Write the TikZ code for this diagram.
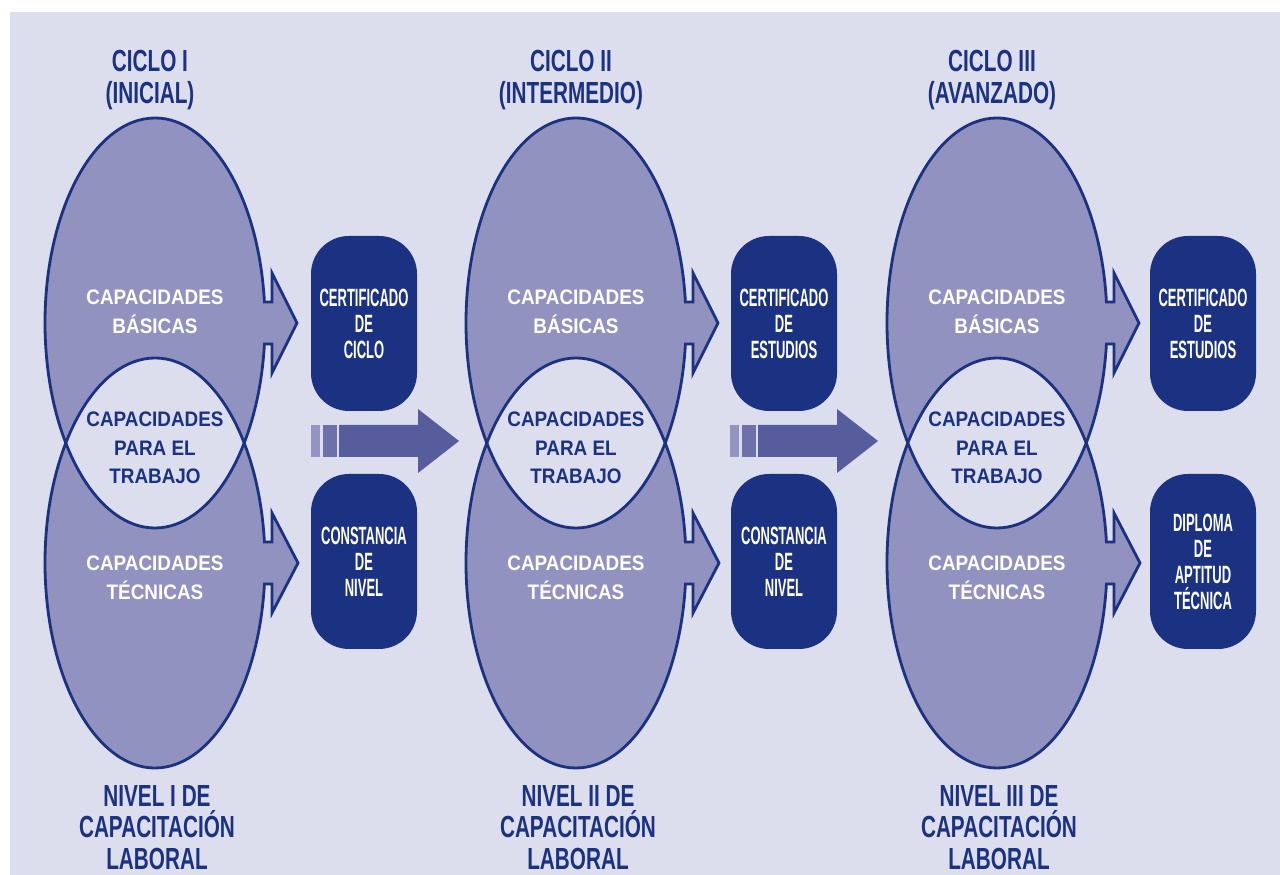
\documentclass[tikz,border=0pt]{standalone}
\usepackage{fontspec}
\newfontfamily\titlefont{Liberation Sans}[FakeStretch=0.68]
\newfontfamily\boxfont{Liberation Sans}[FakeStretch=0.52]
\newfontfamily\capfont{Liberation Sans}[FakeStretch=0.9]
\definecolor{bgc}{RGB}{220,221,237}
\definecolor{ellc}{RGB}{145,146,191}
\definecolor{navy}{RGB}{27,50,130}
\definecolor{arrmain}{RGB}{86,92,156}
\definecolor{arrmid}{RGB}{110,112,170}
\definecolor{arrlight}{RGB}{147,148,194}
\begin{document}
\begin{tikzpicture}[x=1pt,y=1pt,
  box/.style={fill=navy, rounded corners=38pt, minimum width=106pt, minimum height=175pt, inner sep=0pt, text=white, align=center, font=\boxfont\bfseries\fontsize{25}{26}\selectfont},
  captxt/.style={inner sep=0pt, align=center, font=\capfont\bfseries\fontsize{21}{28.5}\selectfont},
  titletxt/.style={inner sep=0pt, align=center, text=navy, font=\titlefont\bfseries\fontsize{30.5}{32}\selectfont},
  outline/.style={draw=navy, line width=2.8pt, line join=miter}]
\useasboundingbox (0,0) rectangle (1280,875);
\fill[white] (0,0) rectangle (1280,875);
\fill[bgc] (10,0) rectangle (1280,863);
% middle arrows
\foreach \dx in {0,419}{
  \fill[arrlight] ({311+\dx},418) rectangle ({320+\dx},450);
  \fill[arrmid] ({323+\dx},418) rectangle ({337+\dx},450);
  \fill[arrmain] ({339+\dx},418) -- ({418+\dx},418) -- ({418+\dx},402) -- ({459+\dx},434) -- ({418+\dx},466) -- ({418+\dx},450) -- ({339+\dx},450) -- cycle;
}
% columns
\foreach \k/\cx/\bx/\ta/\tb/\na/\ba/\bb in {
  1/155/364/{CICLO I}/{(INICIAL)}/{NIVEL I DE}/{CERTIFICADO\\DE\\CICLO}/{CONSTANCIA\\DE\\NIVEL},
  2/576/784/{CICLO II}/{(INTERMEDIO)}/{NIVEL II DE}/{CERTIFICADO\\DE\\ESTUDIOS}/{CONSTANCIA\\DE\\NIVEL},
  3/997/1203/{CICLO III}/{(AVANZADO)}/{NIVEL III DE}/{CERTIFICADO\\DE\\ESTUDIOS}/{DIPLOMA\\DE\\APTITUD\\TÉCNICA}}{
  % top shape
  \fill[ellc] ({\cx+109.42},573) arc[start angle=5.88,end angle=354.12,x radius=110,y radius=205]
     -- ({\cx+117},531) -- ({\cx+117},502) -- ({\cx+142},552) -- ({\cx+117},602) -- ({\cx+117},573) -- cycle;
  % bottom shape
  \fill[ellc] ({\cx+109.42},333) arc[start angle=5.88,end angle=354.12,x radius=110,y radius=205]
     -- ({\cx+117},291) -- ({\cx+117},262) -- ({\cx+143},312) -- ({\cx+117},362) -- ({\cx+117},333) -- cycle;
  % lens
  \begin{scope}
    \clip (\cx,552) ellipse[x radius=110,y radius=205];
    \fill[bgc] (\cx,312) ellipse[x radius=110,y radius=205];
  \end{scope}
  % outlines
  \draw[outline] ({\cx+109.42},573) arc[start angle=5.88,end angle=354.12,x radius=110,y radius=205]
     -- ({\cx+117},531) -- ({\cx+117},502) -- ({\cx+142},552) -- ({\cx+117},602) -- ({\cx+117},573) -- cycle;
  \draw[outline] ({\cx+109.42},333) arc[start angle=5.88,end angle=354.12,x radius=110,y radius=205]
     -- ({\cx+117},291) -- ({\cx+117},262) -- ({\cx+143},312) -- ({\cx+117},362) -- ({\cx+117},333) -- cycle;
  % texts
  \node[captxt, text=white] (bas\k) at (\cx,563) {CAPACIDADES\\BÁSICAS};
  \node[captxt, text=navy] (tra\k) at (\cx,427) {CAPACIDADES\\PARA EL\\TRABAJO};
  \node[captxt, text=white] (tec\k) at (\cx,297) {CAPACIDADES\\TÉCNICAS};
  \node[titletxt] (tit\k) at ({\cx-5},795) {\ta\\\tb};
  \node[titletxt, font=\titlefont\bfseries\fontsize{30.5}{31.5}\selectfont] (niv\k) at ({\cx+2},47.5) {\na\\CAPACITACIÓN\\LABORAL};
  % boxes
  \node[box] (boxA\k) at (\bx,551.5) {\ba};
  \node[box] (boxB\k) at (\bx,313.5) {\bb};
}
\end{tikzpicture}
\end{document}
